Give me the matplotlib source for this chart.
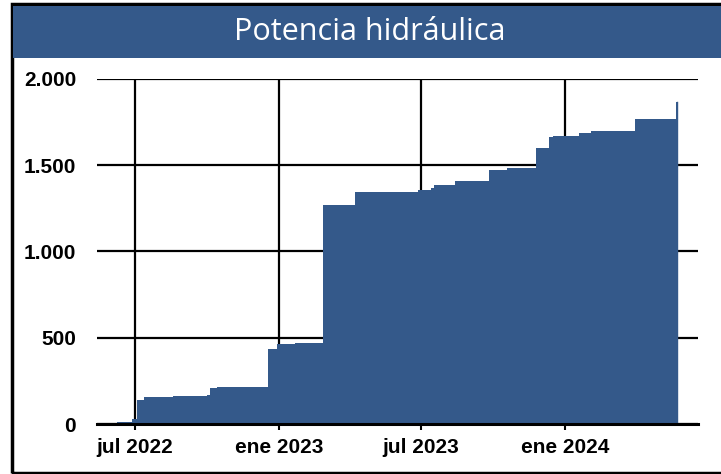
"""Potencia hidráulica acumulada."""
import numpy as np
import matplotlib
matplotlib.use("Agg")
import matplotlib.pyplot as plt
from matplotlib.patches import Rectangle

# fechas de cada escalón y potencia acumulada (MW)
fechas = np.array([
    "2022-06-09", "2022-06-28", "2022-07-04", "2022-07-13", "2022-08-19",
    "2022-10-01", "2022-10-05", "2022-10-14", "2022-11-15", "2022-12-18",
    "2022-12-30", "2023-01-21", "2023-02-26", "2023-04-08", "2023-06-27",
    "2023-07-14", "2023-07-17", "2023-08-13", "2023-09-26", "2023-10-19",
    "2023-11-25", "2023-12-11", "2023-12-16", "2024-01-18", "2024-02-02",
    "2024-03-30", "2024-05-21", "2024-05-22",
], dtype="datetime64[D]")
potencia = np.array([
    12, 28, 139, 157, 162,
    170, 209, 214, 216, 435,
    464, 468, 1270, 1345, 1356,
    1368, 1385, 1409, 1472, 1484,
    1600, 1664, 1670, 1687, 1699,
    1768, 1865, 1865,
])
ticks_x = np.array(["2022-07-01", "2023-01-01", "2023-07-01", "2024-01-01"],
                   dtype="datetime64[D]")
etiquetas_x = ["jul 2022", "ene 2023", "jul 2023", "ene 2024"]
ticks_y = [0, 500, 1000, 1500, 2000]
etiquetas_y = ["0", "500", "1.000", "1.500", "2.000"]

azul = "#34598A"

dpi = 100
fig = plt.figure(dpi=dpi, figsize=(721 / dpi, 474 / dpi))

# marco exterior y banda del título
fig.patches.append(Rectangle((12 / 721, 1 / 474), 1.0, 469 / 474,
                             transform=fig.transFigure, fill=False,
                             edgecolor="black", linewidth=2.5, zorder=0))
fig.patches.append(Rectangle((13 / 721, 1 - 58 / 474), 1.0, 52 / 474,
                             transform=fig.transFigure, facecolor=azul,
                             edgecolor="none", zorder=1))
fig.text(370 / 721, 1 - 32 / 474, "Potencia hidráulica", color="white",
         fontsize=22, family="Open Sans", ha="center", va="center")

ax = fig.add_axes([97 / 721, 1 - 424 / 474, 601 / 721, 345 / 474])
x = fechas.astype(object)
ax.fill_between(x, potencia, step="post", color=azul, linewidth=0, zorder=2)
ax.plot([x[-1], x[-1]], [0, potencia[-1]], color=azul, lw=1, zorder=2)

ax.set_xlim(np.datetime64("2022-05-14").astype(object),
            np.datetime64("2024-06-18").astype(object))
ax.set_ylim(0, 2000)

ax.set_xticks(ticks_x.astype(object))
ax.set_xticklabels(etiquetas_x)
ax.set_yticks(ticks_y)
ax.set_yticklabels(etiquetas_y)

ax.grid(True, color="black", linewidth=1.6, zorder=1)
ax.set_axisbelow(True)
for lado in ["left", "right", "top"]:
    ax.spines[lado].set_visible(False)
ax.spines["bottom"].set_linewidth(2.2)
ax.spines["bottom"].set_zorder(3)

ax.tick_params(axis="y", length=0, pad=15)
ax.tick_params(axis="x", length=4, width=1.5, direction="out", pad=6)
for lab in ax.get_xticklabels() + ax.get_yticklabels():
    lab.set_family(["Liberation Sans", "DejaVu Sans"])
    lab.set_fontweight("bold")
    lab.set_fontsize(15)

fig.savefig("out.png", dpi=dpi)
